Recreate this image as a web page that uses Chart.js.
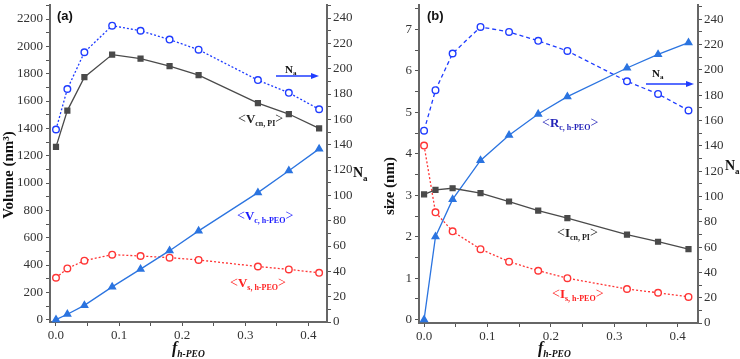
<!DOCTYPE html>
<html>
<head>
<meta charset="utf-8">
<script src="https://cdn.jsdelivr.net/npm/chart.js@4.4.1/dist/chart.umd.min.js"></script>
<style>
  html, body { margin: 0; padding: 0; background: #fff; }
  .wrap { display: flex; width: 740px; height: 359px; }
  .panel { position: relative; width: 370px; height: 359px; }
</style>
</head>
<body>
<div class="wrap">
  <div class="panel"><canvas id="chartA"></canvas></div>
  <div class="panel"><canvas id="chartB"></canvas></div>
</div>
<script>
// hydrophilic PEO fraction (x axis, both panels)
const fValues = [0, 0.018, 0.045, 0.089, 0.134, 0.18, 0.226, 0.32, 0.369, 0.417];
// aggregation number (right axis, both panels)
const naValues = [152, 184, 213, 234, 230, 223, 215, 191, 181, 168];
// panel (a) volumes, nm^3
const vcnPI = [1265, 1530, 1775, 1940, 1910, 1855, 1790, 1585, 1505, 1400];
const vcPEO = [0, 40, 105, 240, 370, 505, 650, 930, 1090, 1250];
const vsPEO = [307, 375, 432, 476, 466, 454, 437, 389, 368, 343];
// panel (b) sizes, nm
const rcPEO = [0, 2.0, 2.9, 3.84, 4.45, 4.96, 5.38, 6.07, 6.4, 6.68];
const icnPI = [3.02, 3.13, 3.17, 3.05, 2.85, 2.63, 2.45, 2.05, 1.88, 1.7];
const isPEO = [4.2, 2.59, 2.13, 1.7, 1.4, 1.18, 1.0, 0.74, 0.65, 0.55];

// labelled ticks
const xTickLabels = [0, 0.1, 0.2, 0.3, 0.4];
const volumeTicks = [0, 200, 400, 600, 800, 1000, 1200, 1400, 1600, 1800, 2000, 2200];
const sizeTicks = [0, 1, 2, 3, 4, 5, 6, 7];
const naTicks = [0, 20, 40, 60, 80, 100, 120, 140, 160, 180, 200, 220, 240];

const SERIF = '"Liberation Serif", "Times New Roman", serif';
Chart.defaults.font.family = SERIF;
Chart.defaults.font.size = 13;
Chart.defaults.color = "#333";

const BLUE = "#1f3cff";
const TRI_BLUE = "#2b74e0";
const RED = "#ff3535";
const GREY = "#4a4a4a";

function pts(ys) {
  return fValues.map((x, i) => ({ x: x, y: ys[i] }));
}

function hasTick(list, v) {
  return list.some((t) => Math.abs(t - v) < 1e-6);
}

function axisStyle() {
  return {
    grid: { drawOnChartArea: false, drawTicks: true, tickLength: 4, color: "#555", lineWidth: 1 },
    border: { display: true, color: "#666", width: 2 },
  };
}

function makeScales(cfg) {
  return {
    x: {
      type: "linear",
      position: "bottom",
      min: cfg.xmin,
      max: cfg.xmax,
      ...axisStyle(),
      ticks: {
        stepSize: 0.05,
        includeBounds: false,
        autoSkip: false,
        maxRotation: 0,
        padding: 2,
        callback: (v) => (hasTick(xTickLabels, v) ? v.toFixed(1) : ""),
      },
      afterFit: (s) => {
        s.height = cfg.bottom;
        s.paddingLeft = 0;
        s.paddingRight = 0;
      },
    },
    y: {
      type: "linear",
      position: "left",
      min: cfg.ymin,
      max: cfg.ymax,
      ...axisStyle(),
      ticks: {
        stepSize: cfg.ystep,
        includeBounds: false,
        autoSkip: false,
        padding: 3,
        callback: (v) => (hasTick(cfg.yticks, v) ? String(v) : ""),
      },
      afterFit: (s) => {
        s.width = cfg.left;
        s.paddingTop = 0;
        s.paddingBottom = 0;
      },
    },
    y2: {
      type: "linear",
      position: "right",
      min: 0,
      max: cfg.namax,
      ...axisStyle(),
      ticks: {
        stepSize: 10,
        includeBounds: false,
        autoSkip: false,
        padding: 2,
        callback: (v) => (hasTick(naTicks, v) ? String(v) : ""),
      },
      afterFit: (s) => {
        s.width = cfg.right;
        s.paddingTop = 0;
        s.paddingBottom = 0;
      },
    },
  };
}

function ds(data, o) {
  return Object.assign(
    {
      data: pts(data),
      yAxisID: "y",
      borderWidth: 1.3,
      pointRadius: 3.3,
      pointBorderWidth: 1.4,
      clip: false,
      tension: 0,
    },
    o
  );
}

// rich text: parts of [text, font, dy]
function drawRich(ctx, x, y, parts, color) {
  ctx.save();
  ctx.fillStyle = color;
  ctx.textAlign = "left";
  ctx.textBaseline = "alphabetic";
  let cx = x;
  parts.forEach((p) => {
    ctx.font = p[1];
    ctx.fillText(p[0], cx, y + (p[2] || 0));
    cx += ctx.measureText(p[0]).width;
  });
  ctx.restore();
}

const fBr = "14px " + SERIF;
const fMain = "bold 13px " + SERIF;
const fSub = "bold 8px " + SERIF;

function bracketLabel(main, sub) {
  return [["<", fBr], [main, fMain], [sub, fSub, 3], [">", fBr]];
}

function drawArrow(ctx, x1, x2, y, color) {
  ctx.save();
  ctx.strokeStyle = color;
  ctx.fillStyle = color;
  ctx.lineWidth = 1.4;
  ctx.beginPath();
  ctx.moveTo(x1, y);
  ctx.lineTo(x2 - 6, y);
  ctx.stroke();
  ctx.beginPath();
  ctx.moveTo(x2, y);
  ctx.lineTo(x2 - 8, y - 3);
  ctx.lineTo(x2 - 8, y + 3);
  ctx.closePath();
  ctx.fill();
  ctx.restore();
}

function textPlugin(p) {
  return {
    id: "texts" + p.tag,
    afterDraw(chart) {
      const ctx = chart.ctx;
      // panel tag
      ctx.save();
      ctx.font = 'bold 13px "Liberation Sans", Arial, sans-serif';
      ctx.fillStyle = "#111";
      ctx.fillText("(" + p.tag + ")", 57, 20);
      ctx.restore();
      // left axis title
      ctx.save();
      ctx.translate(p.ytitleX, p.ytitleY);
      ctx.rotate(-Math.PI / 2);
      ctx.font = "bold 15px " + SERIF;
      ctx.fillStyle = "#111";
      ctx.textAlign = "center";
      ctx.fillText(p.ytitle, 0, 0);
      ctx.restore();
      // right axis title
      drawRich(ctx, p.naX, p.naY, [["N", "bold 14px " + SERIF], ["a", "bold 9px " + SERIF, 4]], "#111");
      // x axis title
      drawRich(ctx, p.fX, 353, [["f", "bold italic 16px " + SERIF], ["h-PEO", "bold italic 9.5px " + SERIF, 4]], "#111");
      // series labels
      p.notes.forEach((n) => drawRich(ctx, n.x, n.y, n.parts, n.color));
      // N_a arrow
      drawRich(ctx, p.arrow.tx, p.arrow.ty, [["N", "bold 11px " + SERIF], ["a", "bold 7px " + SERIF, 2]], "#111");
      drawArrow(ctx, p.arrow.x1, p.arrow.x2, p.arrow.y, BLUE);
    },
  };
}

const baseOpts = {
  responsive: true,
  maintainAspectRatio: false,
  animation: false,
  layout: { padding: 0 },
  plugins: { legend: { display: false }, tooltip: { enabled: false } },
};

new Chart(document.getElementById("chartA"), {
  type: "line",
  data: {
    datasets: [
      ds(vcnPI, { borderColor: GREY, backgroundColor: GREY, pointStyle: "rect", pointRadius: 3.4 }),
      ds(vcPEO, { borderColor: TRI_BLUE, backgroundColor: TRI_BLUE, pointStyle: "triangle", pointRadius: 3.8 }),
      ds(vsPEO, { borderColor: RED, backgroundColor: "#fff", borderDash: [2, 2], pointBorderColor: RED }),
      ds(naValues, { yAxisID: "y2", borderColor: BLUE, backgroundColor: "#fff", borderDash: [2, 2], pointBorderColor: BLUE }),
    ],
  },
  options: Object.assign({}, baseOpts, {
    scales: makeScales({
      xmin: -0.0095, xmax: 0.4295, bottom: 37,
      ymin: -17, ymax: 2300, ystep: 100, yticks: volumeTicks, left: 50,
      namax: 250, right: 43,
    }),
  }),
  plugins: [
    textPlugin({
      tag: "a",
      ytitle: "Volume (nm³)", ytitleX: 13, ytitleY: 175,
      naX: 353, naY: 177, fX: 172,
      notes: [
        { x: 238, y: 123, color: "#222", parts: bracketLabel("V", "cn, PI") },
        { x: 237, y: 220, color: "#1a1aff", parts: bracketLabel("V", "c, h-PEO") },
        { x: 230, y: 287, color: "#ff2020", parts: bracketLabel("V", "s, h-PEO") },
      ],
      arrow: { tx: 285, ty: 73, x1: 276, x2: 319, y: 76 },
    }),
  ],
});

new Chart(document.getElementById("chartB"), {
  type: "line",
  data: {
    datasets: [
      ds(icnPI, { borderColor: GREY, backgroundColor: GREY, pointStyle: "rect", pointRadius: 3.4 }),
      ds(rcPEO, { borderColor: TRI_BLUE, backgroundColor: TRI_BLUE, pointStyle: "triangle", pointRadius: 3.8 }),
      ds(isPEO, { borderColor: RED, backgroundColor: "#fff", borderDash: [2, 2], pointBorderColor: RED }),
      ds(naValues, { yAxisID: "y2", borderColor: BLUE, backgroundColor: "#fff", borderDash: [4, 3], pointBorderColor: BLUE }),
    ],
  },
  options: Object.assign({}, baseOpts, {
    scales: makeScales({
      xmin: -0.008, xmax: 0.432, bottom: 36,
      ymin: -0.08, ymax: 7.58, ystep: 0.5, yticks: sizeTicks, left: 49,
      namax: 251, right: 42,
    }),
  }),
  plugins: [
    textPlugin({
      tag: "b",
      ytitle: "size (nm)", ytitleX: 24, ytitleY: 186,
      naX: 355, naY: 170, fX: 168,
      notes: [
        { x: 172, y: 127, color: "#2323b8", parts: bracketLabel("R", "c, h-PEO") },
        { x: 187, y: 237, color: "#222", parts: bracketLabel("I", "cn, PI") },
        { x: 182, y: 298, color: "#ff2020", parts: bracketLabel("I", "s, h-PEO") },
      ],
      arrow: { tx: 282, ty: 77, x1: 276, x2: 324, y: 84 },
    }),
  ],
});
</script>
</body>
</html>
